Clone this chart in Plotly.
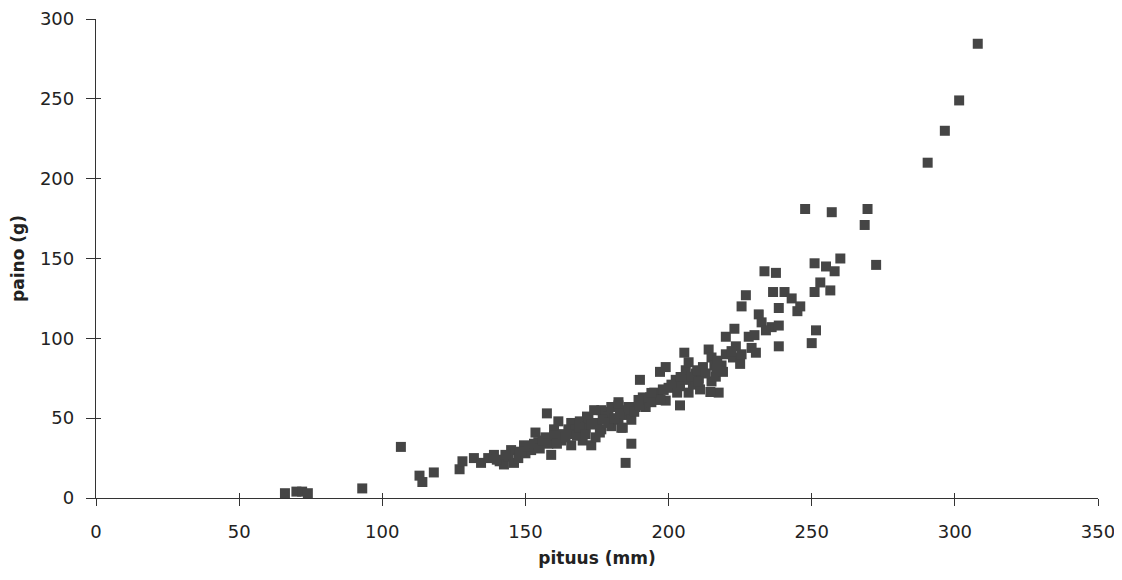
import plotly.graph_objects as go

# pituus (mm) and paino (g)
pituus = [66, 70, 72, 74, 93, 106.5, 113, 114, 118, 127, 128, 132, 134.5, 137, 139, 141, 142.5, 144,
          146, 145, 147.5, 149.5, 150, 152, 153.5, 154.5, 157.5, 157, 159, 160, 161.5, 162.5, 165, 166,
          166, 167.5, 169, 170, 171, 171.5, 172, 173, 174, 174.5, 176.5, 176.5, 176, 178, 179, 180, 180,
          182.5, 182.5, 182.5, 183.5, 184, 185, 185, 185, 187, 187, 188.5, 190, 190.5, 192, 192, 193.5,
          196.5, 197, 199, 199, 200, 202.5, 204, 204, 205.5, 206, 207, 207, 208.5, 209.5, 210.5, 211,
          212, 214, 215, 215, 216, 216.5, 217.5, 218.5, 220, 220, 222.5, 223, 223.5, 225, 225.5, 225.5,
          227, 229, 230.5, 231.5, 232.5, 233.5, 236, 236.5, 237.5, 238.5, 238.5, 238.5, 240.5, 243, 245,
          246, 247.7, 250, 251, 251, 251.5, 253, 255, 256.5, 257, 258, 260, 268.5, 269.5, 272.5, 290.5,
          296.5, 301.5, 308,
          140, 143, 148, 151, 153, 155, 156, 158, 160, 161, 163, 164, 166, 168, 169, 171, 173, 175, 177,
          179, 181, 183, 186, 188, 190, 191, 194, 195, 198, 201, 203, 206, 208, 210, 213, 217, 219, 222,
          228, 230, 234, 216.7, 210.5, 204.2, 214.6, 198.3, 197.2, 194, 189.5]
paino = [3, 4, 4, 3, 6, 32, 14, 10, 16, 18, 23, 25, 22, 25, 27, 23, 21, 26,
         22, 30, 25, 33, 28, 30, 41, 35, 53, 38, 27, 43, 48, 36, 43, 33,
         47, 43, 48, 36, 44, 51, 50, 33, 55, 38, 55, 43, 41, 54, 51, 57, 45,
         58, 49, 60, 44, 44, 52, 55, 22, 49, 34, 57, 74, 61, 57, 60, 63,
         65, 79, 82, 61, 69, 74, 58, 70, 91, 80, 66, 85, 71, 78, 75, 68,
         82, 93, 88, 73, 83, 76, 66, 83, 90, 101, 88, 106, 95, 84, 90, 120,
         127, 94, 91, 115, 110, 142, 107, 129, 141, 119, 108, 95, 129, 125, 117,
         120, 181, 97, 129, 147, 105, 135, 145, 130, 179, 142, 150, 171, 181, 146, 210,
         230, 249, 284.5,
         24, 27, 29, 32, 34, 31, 36, 34, 39, 34, 40, 38, 40, 39, 44, 40, 46, 47, 49,
         47, 50, 53, 57, 54, 58, 63, 60, 66, 68, 71, 66, 74, 76, 80, 78, 86, 79, 92,
         101, 102, 105, 80.8, 72.7, 75.8, 66.4, 67.7, 61.4, 65.8, 61.4]

x_ticks = [0, 50, 100, 150, 200, 250, 300, 350]
y_ticks = [0, 50, 100, 150, 200, 250, 300]

fig = go.Figure()
fig.add_trace(go.Scatter(
    x=pituus, y=paino, mode="markers",
    marker=dict(symbol="square", size=10, color="#454545", line=dict(width=0)),
    cliponaxis=False, showlegend=False, hoverinfo="x+y"))
# helper trace so the inner tick axes render
fig.add_trace(go.Scatter(x=[None], y=[None], xaxis="x2", yaxis="y2",
                         showlegend=False, hoverinfo="skip"))

font_tick = dict(family="DejaVu Sans, sans-serif", size=18, color="#222222")
font_title = dict(family="DejaVu Sans, sans-serif", size=17, color="#222222")

# the page body adds an 8px offset, so the figure is sized to compensate
fig.update_layout(
    width=1114, height=572,
    margin=dict(l=88, r=24, t=11, b=82),
    paper_bgcolor="white", plot_bgcolor="white",
    xaxis=dict(range=[0, 350], tickvals=x_ticks, ticks="outside", ticklen=7,
               tickcolor="#333333", tickwidth=1.3, showline=True, linecolor="#333333",
               linewidth=1.3, showgrid=False, zeroline=False, tickfont=font_tick,
               ticklabelstandoff=10, automargin=False,
               title=dict(text="<b>pituus (mm)</b>", font=font_title, standoff=11)),
    yaxis=dict(range=[0, 300], tickvals=y_ticks, ticks="outside", ticklen=9,
               tickcolor="#333333", tickwidth=1.3, showline=True, linecolor="#333333",
               linewidth=1.3, showgrid=False, zeroline=False, tickfont=font_tick,
               ticklabelstandoff=8, automargin=False,
               title=dict(text="<b>paino (g)</b>", font=font_title, standoff=12)),
    xaxis2=dict(range=[0, 350], tickvals=x_ticks, ticks="inside", ticklen=5,
                tickcolor="#333333", tickwidth=1.3, overlaying="x", side="bottom",
                showticklabels=False, showgrid=False, zeroline=False, showline=False),
    yaxis2=dict(range=[0, 300], tickvals=y_ticks, ticks="inside", ticklen=5,
                tickcolor="#333333", tickwidth=1.3, overlaying="y", side="left",
                showticklabels=False, showgrid=False, zeroline=False, showline=False),
)

fig.write_html("out.html")
